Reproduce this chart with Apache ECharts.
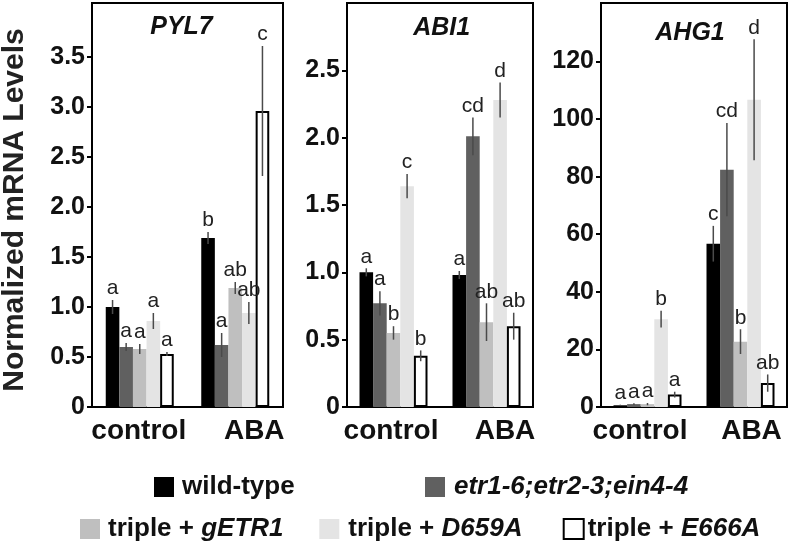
<!DOCTYPE html>
<html>
<head>
<meta charset="utf-8">
<script src="https://cdn.jsdelivr.net/npm/echarts@6/dist/echarts.min.js"></script>
<style>
html,body{margin:0;padding:0;background:#fff;}
#chart{width:789px;height:546px;}
</style>
</head>
<body>
<div id="chart"></div>
<script>
// ---- data ----
const categories = ['control', 'ABA'];
const genotypes = ['wild-type', 'etr1-6;etr2-3;ein4-4', 'triple + gETR1', 'triple + D659A', 'triple + E666A'];
const genes = ['PYL7', 'ABI1', 'AHG1'];

// means [genotype][condition]
const pyl7Mean = [[1.00, 1.69], [0.60, 0.62], [0.58, 1.19], [0.86, 0.94], [0.53, 2.96]];
const pyl7Err  = [[0.07, 0.06], [0.04, 0.12], [0.05, 0.06], [0.08, 0.11], [0.02, 0.65]];
const pyl7Letters = [['a', 'b'], ['a', 'a'], ['a', 'ab'], ['a', 'ab'], ['a', 'c']];

const abi1Mean = [[1.00, 0.98], [0.77, 2.01], [0.55, 0.63], [1.64, 2.28], [0.38, 0.60]];
const abi1Err  = [[0.03, 0.03], [0.09, 0.14], [0.05, 0.14], [0.09, 0.13], [0.04, 0.10]];
const abi1Letters = [['a', 'a'], ['a', 'cd'], ['b', 'ab'], ['c', 'd'], ['b', 'ab']];

const ahg1Mean = [[0.6, 56.7], [1.0, 82.4], [1.0, 22.7], [30.5, 106.7], [4.3, 8.3]];
const ahg1Err  = [[0.2, 6.2], [0.3, 16.2], [0.4, 4.3], [2.9, 21.0], [1.0, 3.0]];
const ahg1Letters = [['a', 'c'], ['a', 'cd'], ['a', 'b'], ['b', 'd'], ['a', 'ab']];

const pyl7Ticks = [0, 0.5, 1.0, 1.5, 2.0, 2.5, 3.0, 3.5];
const abi1Ticks = [0, 0.5, 1.0, 1.5, 2.0, 2.5];
const ahg1Ticks = [0, 20, 40, 60, 80, 100, 120];

// ---- styles ----
const FONT = "'Liberation Sans', Arial, sans-serif";
const colors = ['#000000', '#606060', '#bfbfbf', '#e4e4e4', '#ffffff'];
const barW = 13.6;

const panels = [
  {gene: genes[0], mean: pyl7Mean, err: pyl7Err, letters: pyl7Letters, ticks: pyl7Ticks, max: 4.04,
   left: 92, width: 191, dec: 1, title: [181.5, 27.5], lab: [-1, 19]},
  {gene: genes[1], mean: abi1Mean, err: abi1Err, letters: abi1Letters, ticks: abi1Ticks, max: 3.0,
   left: 347, width: 186, dec: 1, title: [441.7, 28], lab: [-2.5, 18.5]},
  {gene: genes[2], mean: ahg1Mean, err: ahg1Err, letters: ahg1Letters, ticks: ahg1Ticks, max: 140.3,
   left: 601, width: 186, dec: 0, title: [690, 33.5], lab: [-7.5, 11]}
];

const grid = [], xAxis = [], yAxis = [], series = [], graphic = [];

panels.forEach((p, pi) => {
  grid.push({left: p.left, width: p.width, top: 3, height: 404, show: true,
             borderColor: '#000', borderWidth: 2, backgroundColor: 'transparent'});
  const padC = p.lab[0] < 0 ? [0, -2 * p.lab[0], 0, 0] : [0, 0, 0, 2 * p.lab[0]];
  const padA = p.lab[1] < 0 ? [0, -2 * p.lab[1], 0, 0] : [0, 0, 0, 2 * p.lab[1]];
  xAxis.push({type: 'category', gridIndex: pi, data: categories,
    axisLine: {show: true, lineStyle: {color: '#000', width: 2}},
    axisTick: {show: false},
    axisLabel: {margin: 10, interval: 0,
      formatter: (v) => v === 'control' ? '{c|' + v + '}' : '{a|' + v + '}',
      rich: {
        c: {fontFamily: FONT, fontWeight: 'bold', fontSize: 28, color: '#111', padding: padC},
        a: {fontFamily: FONT, fontWeight: 'bold', fontSize: 28, color: '#111', padding: padA}
      }}
  });
  yAxis.push({type: 'value', gridIndex: pi, min: 0, max: p.max,
    splitLine: {show: false},
    axisLine: {show: true, lineStyle: {color: '#000', width: 2}},
    axisTick: {show: true, inside: false, length: 5, lineStyle: {color: '#000', width: 2}, customValues: p.ticks},
    axisLabel: {margin: 7, customValues: p.ticks, fontFamily: FONT, fontWeight: 'bold', fontSize: 25, color: '#111',
      formatter: (v) => v === 0 ? '0' : v.toFixed(p.dec)}
  });
  genotypes.forEach((g, gi) => {
    series.push({type: 'bar', name: g, xAxisIndex: pi, yAxisIndex: pi,
      data: p.mean[gi], barWidth: barW, barGap: '0%', z: 2,
      itemStyle: gi === 4 ? {color: colors[gi], borderColor: '#000', borderWidth: 2} : {color: colors[gi]},
      emphasis: {disabled: true}
    });
  });
  const items = [];
  genotypes.forEach((g, gi) => {
    categories.forEach((c, ci) => {
      items.push({g: gi, c: ci, mean: p.mean[gi][ci], err: p.err[gi][ci], letter: p.letters[gi][ci]});
    });
  });
  series.push({type: 'custom', xAxisIndex: pi, yAxisIndex: pi, z: 5, silent: true,
    data: items.map(it => [it.c, it.mean + it.err]),
    renderItem: (params, api) => {
      const it = items[params.dataIndex];
      const base = api.coord([it.c, it.mean]);
      const x = base[0] + (it.g - 2) * barW;
      const yTop = api.coord([it.c, it.mean + it.err])[1];
      const yBot = api.coord([it.c, Math.max(0, it.mean - it.err)])[1];
      return {type: 'group', children: [
        {type: 'line', shape: {x1: x, y1: yTop, x2: x, y2: yBot},
         style: {stroke: '#4a4a4a', lineWidth: 1.5}},
        {type: 'text', x: x, y: yTop - 1,
         style: {text: it.letter, align: 'center', verticalAlign: 'bottom',
                 font: 'normal 21px ' + FONT, fill: '#222'}}
      ]};
    }
  });
  graphic.push({type: 'text', x: p.title[0], y: p.title[1],
    style: {text: p.gene, align: 'center', verticalAlign: 'middle',
            font: 'italic bold 25px ' + FONT, fill: '#111'}});
});

graphic.push({type: 'text', x: 14.5, y: 210, rotation: Math.PI / 2,
  style: {text: 'Normalized mRNA Levels', align: 'center', verticalAlign: 'middle',
          font: 'bold 30px ' + FONT, fill: '#222'}});

const legendRich = {
  b: {fontFamily: FONT, fontWeight: 'bold', fontSize: 26, color: '#111'},
  i: {fontFamily: FONT, fontWeight: 'bold', fontStyle: 'italic', fontSize: 26, color: '#111'}
};
const legendFmt = (name) => {
  if (name === 'wild-type') return '{b|wild-type}';
  if (name.indexOf('triple + ') === 0) return '{b|triple + }{i|' + name.slice(9) + '}';
  return '{i|' + name + '}';
};
const legendPos = [[154, 489, 3], [425, 489, 4], [80, 531, 3], [319.3, 531, 4], [562.7, 531, -1]];
const legend = genotypes.map((g, gi) => ({
  data: [g], left: legendPos[gi][0], top: legendPos[gi][1] - 15, padding: 0,
  itemWidth: 20, itemHeight: 20, icon: 'rect', selectedMode: false,
  formatter: legendFmt,
  textStyle: {rich: legendRich, padding: [0, 0, 0, legendPos[gi][2]]}
}));

const chart = echarts.init(document.getElementById('chart'), null, {renderer: 'canvas'});
chart.setOption({
  animation: false,
  backgroundColor: '#fff',
  grid, xAxis, yAxis, series, legend, graphic
});
</script>
</body>
</html>
